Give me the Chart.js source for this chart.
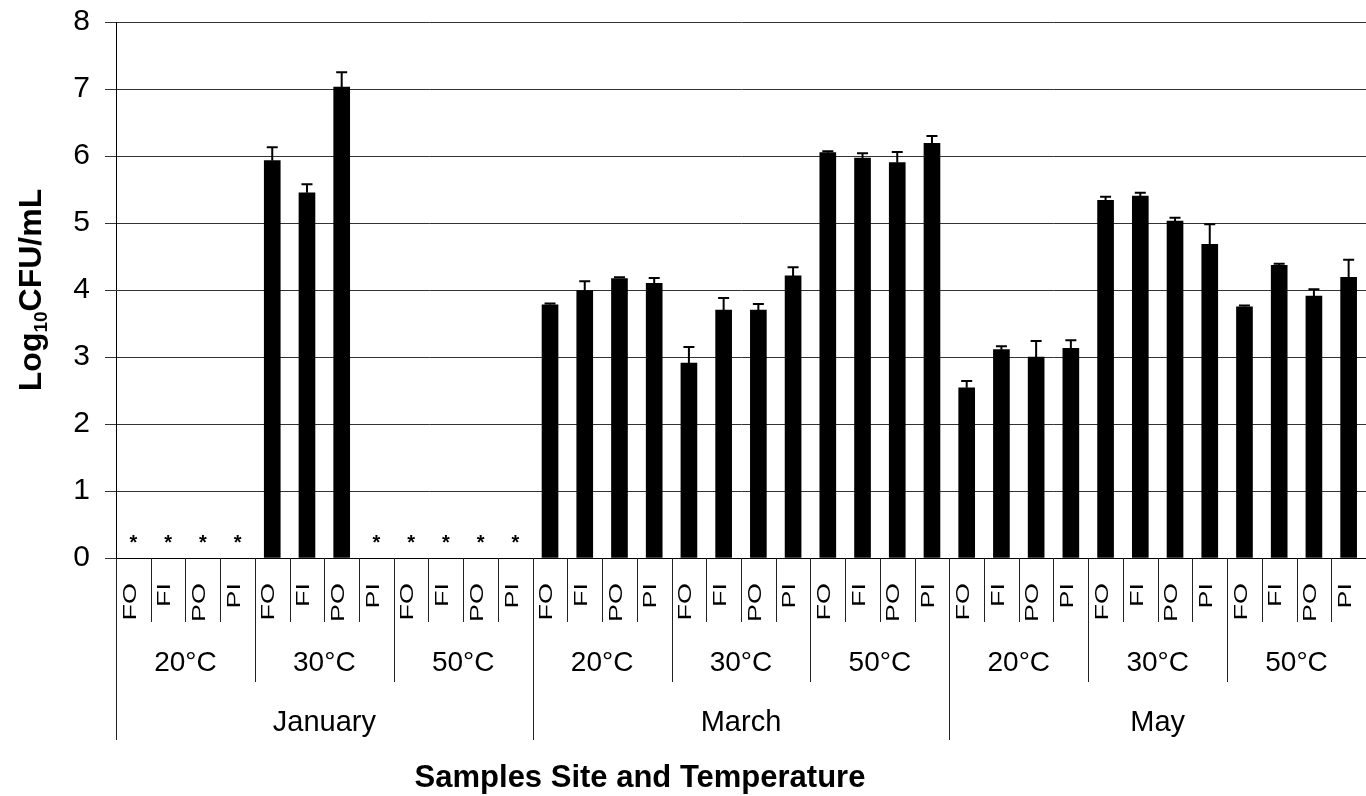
<!DOCTYPE html>
<html>
<head>
<meta charset="utf-8">
<script src="https://cdn.jsdelivr.net/npm/chart.js@4.4.1/dist/chart.umd.min.js"></script>
<style>
  body { margin: 0; background: #fff; }
  #wrap { width: 1366px; height: 796px; position: relative; }
</style>
</head>
<body>
<div id="wrap"><canvas id="cfuChart"></canvas></div>
<script>
const months = ["January", "March", "May"];
const temps = ["20°C", "30°C", "50°C"];
const sites = ["FO", "FI", "PO", "PI"];

// null = not detected (drawn as *)
const janMeans = [null, null, null, null, 5.93, 5.45, 7.03, null, null, null, null, null];
const janErrors = [0, 0, 0, 0, 0.20, 0.13, 0.22, 0, 0, 0, 0, 0];
const marMeans = [3.78, 3.99, 4.17, 4.10, 2.91, 3.70, 3.70, 4.21, 6.05, 5.97, 5.90, 6.19];
const marErrors = [0.02, 0.14, 0.02, 0.08, 0.24, 0.18, 0.09, 0.13, 0.02, 0.07, 0.16, 0.11];
const mayMeans = [2.54, 3.11, 3.00, 3.13, 5.34, 5.40, 5.03, 4.68, 3.75, 4.37, 3.91, 4.19];
const mayErrors = [0.10, 0.05, 0.24, 0.12, 0.05, 0.05, 0.05, 0.30, 0.02, 0.02, 0.10, 0.26];

const yTicks = [0, 1, 2, 3, 4, 5, 6, 7, 8];

const means = [...janMeans, ...marMeans, ...mayMeans];
const errors = [...janErrors, ...marErrors, ...mayErrors];
const labels = [];
months.forEach(m => temps.forEach(t => sites.forEach(s => labels.push(s))));

const FONT = "Arial, 'Liberation Sans', sans-serif";

const decor = {
  id: "decor",
  afterDraw(chart) {
    const ctx = chart.ctx;
    const xs = chart.scales.x;
    const ys = chart.scales.y;
    const area = chart.chartArea;
    const n = labels.length;
    const step = xs.getPixelForValue(1) - xs.getPixelForValue(0);

    ctx.save();
    // error bars (upper only)
    ctx.strokeStyle = "#000";
    ctx.lineWidth = 2;
    means.forEach((v, i) => {
      if (v === null || !errors[i]) return;
      const x = xs.getPixelForValue(i);
      const y0 = ys.getPixelForValue(v);
      const y1 = ys.getPixelForValue(v + errors[i]);
      ctx.beginPath();
      ctx.moveTo(x, y0);
      ctx.lineTo(x, y1);
      ctx.moveTo(x - 5.5, y1);
      ctx.lineTo(x + 5.5, y1);
      ctx.stroke();
    });

    // asterisks for not detected
    ctx.fillStyle = "#000";
    ctx.font = "bold 20px " + FONT;
    ctx.textAlign = "center";
    ctx.textBaseline = "alphabetic";
    means.forEach((v, i) => {
      if (v !== null) return;
      ctx.fillText("*", xs.getPixelForValue(i), ys.getPixelForValue(0) - 9);
    });

    // category separators below the axis
    const base = area.bottom;
    ctx.strokeStyle = "#222";
    ctx.lineWidth = 1;
    for (let i = 0; i <= n; i++) {
      const x = Math.round(area.left + i * step) + 0.5;
      let end = base + 64;
      if (i % 4 === 0) end = base + 124;
      if (i % 12 === 0) end = base + 182;
      ctx.beginPath();
      ctx.moveTo(x, base);
      ctx.lineTo(x, end);
      ctx.stroke();
    }

    // site labels, rotated
    ctx.fillStyle = "#000";
    labels.forEach((s, i) => {
      ctx.save();
      ctx.translate(xs.getPixelForValue(i) - 3, base + 25);
      ctx.rotate(-Math.PI / 2);
      ctx.scale(1, 0.7);
      ctx.font = "27px " + FONT;
      ctx.textAlign = "right";
      ctx.textBaseline = "middle";
      ctx.fillText(s, 0, 0);
      ctx.restore();
    });

    // temperature and month labels
    ctx.textAlign = "center";
    ctx.textBaseline = "middle";
    months.forEach((m, mi) => {
      ctx.font = "28px " + FONT;
      temps.forEach((t, ti) => {
        const cx = area.left + (mi * 12 + ti * 4 + 2) * step;
        ctx.fillText(t, cx, base + 105);
      });
      const mx = area.left + (mi * 12 + 6) * step;
      ctx.font = "29px " + FONT;
      ctx.fillText(m, mx, base + 165);
    });

    // x axis title
    ctx.font = "bold 31px " + FONT;
    ctx.fillText("Samples Site and Temperature", 640, 778);

    // y axis title with subscript
    ctx.save();
    ctx.translate(30, (area.top + area.bottom) / 2);
    ctx.rotate(-Math.PI / 2);
    const big = "bold 32px " + FONT;
    const small = "bold 19px " + FONT;
    ctx.font = big;
    const w1 = ctx.measureText("Log").width;
    const w3 = ctx.measureText("CFU/mL").width;
    ctx.font = small;
    const w2 = ctx.measureText("10").width;
    let x = -(w1 + w2 + w3) / 2;
    ctx.textAlign = "left";
    ctx.textBaseline = "alphabetic";
    ctx.font = big;
    ctx.fillText("Log", x, 11);
    x += w1;
    ctx.font = small;
    ctx.fillText("10", x, 17);
    x += w2;
    ctx.font = big;
    ctx.fillText("CFU/mL", x, 11);
    ctx.restore();

    ctx.restore();
  }
};

new Chart(document.getElementById("cfuChart"), {
  type: "bar",
  data: {
    labels,
    datasets: [{
      data: means,
      backgroundColor: "#000",
      barThickness: 16
    }]
  },
  options: {
    responsive: true,
    maintainAspectRatio: false,
    animation: false,
    layout: { padding: { top: 22, right: 0, left: 0, bottom: 0 } },
    plugins: { legend: { display: false }, tooltip: { enabled: false } },
    scales: {
      x: {
        ticks: { display: false },
        grid: { display: false },
        border: { display: true, color: "#000", width: 1 },
        afterFit: (axis) => { axis.height = 238; }
      },
      y: {
        min: 0,
        max: 8,
        afterBuildTicks: (axis) => { axis.ticks = yTicks.map(v => ({ value: v })); },
        ticks: {
          color: "#000",
          padding: 15,
          font: { family: FONT, size: 30 }
        },
        grid: { color: "#333", lineWidth: 1, tickLength: 11 },
        border: { display: true, color: "#000", width: 1 },
        afterFit: (axis) => {
          axis.width = 116;
          axis.paddingTop = 0;
          axis.paddingBottom = 0;
        }
      }
    }
  },
  plugins: [decor]
});
</script>
</body>
</html>
